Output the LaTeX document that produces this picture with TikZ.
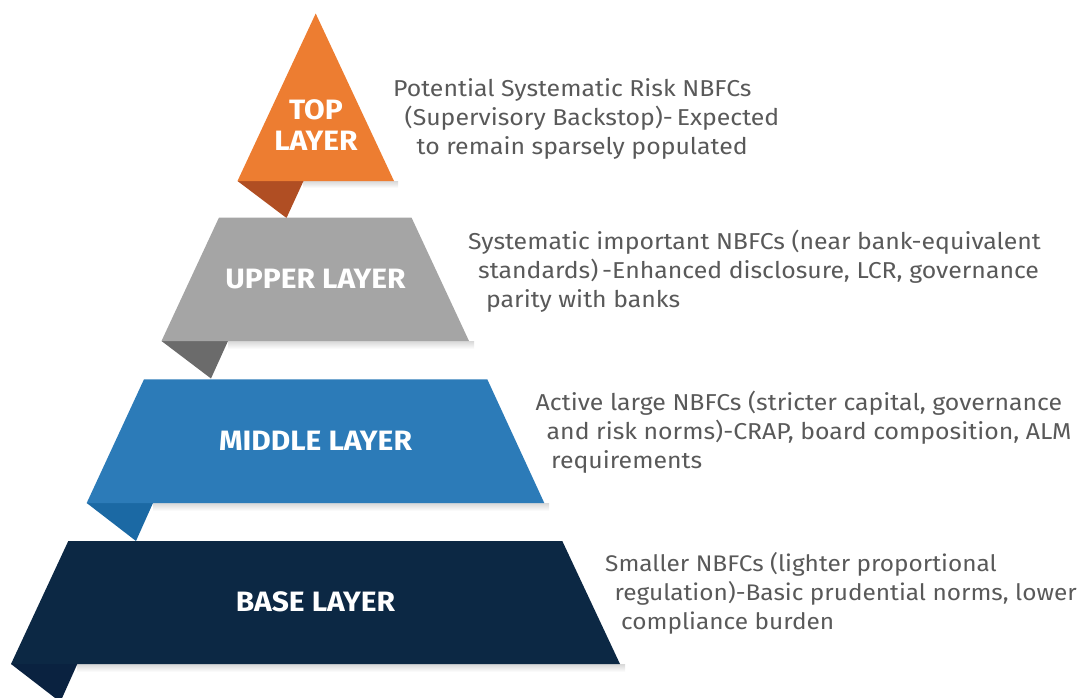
\documentclass[tikz,border=0pt]{standalone}
\usepackage{fontspec}
\setmainfont{Fira Sans}
\newfontfamily\descfont[FakeStretch=1.08]{Fira Sans}
\newfontfamily\titlefont[FakeStretch=1.07]{Fira Sans}
\usetikzlibrary{fadings}
\definecolor{toporange}{HTML}{ED7D31}
\definecolor{topfold}{HTML}{B04E23}
\definecolor{uppergrey}{HTML}{A5A5A5}
\definecolor{upperfold}{HTML}{6B6B6B}
\definecolor{midblue}{HTML}{2C7BB8}
\definecolor{midfold}{HTML}{1B69A4}
\definecolor{basenavy}{HTML}{0C2844}
\definecolor{basefold}{HTML}{0A2240}
\definecolor{desctext}{HTML}{595959}
\tikzset{
  layerlabel/.style={text=white, font=\titlefont\fontsize{28}{30}\selectfont\bfseries, inner sep=0pt, anchor=base},
  desc/.style={text=desctext, font=\descfont\fontsize{23}{27}\selectfont, inner sep=0pt, anchor=base west},
  descsmall/.style={desc, font=\descfont\fontsize{22.6}{27}\selectfont},
  foldshadow/.style={top color=black!28, bottom color=white, opacity=0.55}
}
\begin{document}
\begin{tikzpicture}[x=1pt, y=-1pt]
\useasboundingbox (0,0) rectangle (1077,697);
\clip (0,0) rectangle (1077,697);

% soft shadows under each band
\shade[foldshadow] (303,181) rectangle (398,188);
\shade[foldshadow] (228,341) rectangle (474,349);
\shade[foldshadow] (153,503) rectangle (549,511);
\shade[foldshadow] (77,664) rectangle (625,672);

% top layer: triangle with its fold
\fill[topfold] (237.5,181) -- (303.5,181) -- (286.5,218) -- cycle;
\fill[toporange] (315.7,13.5) -- (394,181) -- (237.5,181) -- cycle;

% upper layer
\fill[upperfold] (161.5,341) -- (228,341) -- (211,378.5) -- cycle;
\fill[uppergrey] (219,217.5) -- (411.5,217.5) -- (469,341) -- (161.5,341) -- cycle;

% middle layer
\fill[midfold] (86.7,503) -- (153,503) -- (136,541) -- cycle;
\fill[midblue] (144,379.3) -- (487.3,379.3) -- (544.3,503) -- (86.7,503) -- cycle;

% base layer
\fill[basefold] (11,664) -- (77.3,664) -- (60.3,702) -- cycle;
\fill[basenavy] (68.3,541) -- (562.3,541) -- (620,664) -- (11,664) -- cycle;

% layer titles
\node[layerlabel] (toplab1) at (316,119.5) {TOP};
\node[layerlabel] (toplab2) at (316,150.5) {LAYER};
\node[layerlabel] (upperlab) at (315.5,288.5) {UPPER LAYER};
\node[layerlabel] (midlab) at (315.5,450) {MIDDLE LAYER};
\node[layerlabel] (baselab) at (315.5,611) {BASE LAYER};

% descriptions
\node[desc] (topd1) at (393,96.7) {Potential Systematic Risk NBFCs};
\node[desc] (topd2) at (404.5,125.7) {(Supervisory Backstop)-\,Expected};
\node[desc] (topd3) at (416.5,154.7) {to remain sparsely populated};

\node[desc] (upd1) at (468,249.5) {Systematic important NBFCs (near bank-equivalent};
\node[desc] (upd2) at (478,278.5) {standards)\,-Enhanced disclosure, LCR, governance};
\node[desc] (upd3) at (486,307.5) {parity with banks};

\node[desc] (midd1) at (535.5,410.5) {Active large NBFCs (stricter capital, governance};
\node[desc] (midd2) at (546.5,439.5) {and risk norms)-CRAP, board composition, ALM};
\node[desc] (midd3) at (551,468.5) {requirements};

\node[descsmall] (based1) at (605,571.5) {Smaller NBFCs (lighter proportional};
\node[descsmall] (based2) at (614.5,600.5) {regulation)-Basic prudential norms, lower};
\node[descsmall] (based3) at (621,629.5) {compliance burden};
\end{tikzpicture}
\end{document}
